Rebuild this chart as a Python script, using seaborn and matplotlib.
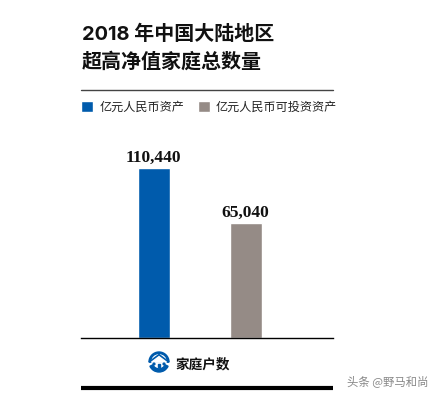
import pandas as pd
import matplotlib
matplotlib.use("Agg")
import matplotlib.pyplot as plt
from matplotlib.patches import Circle, Polygon, Rectangle, Wedge
import seaborn as sns

# values as printed on the chart
series = ["亿元人民币资产", "亿元人民币可投资资产"]
value_labels = ["110,440", "65,040"]
# bar heights as drawn: the grey bar in the source is taller than 65,040 would give
bar_heights = [110440, 74500]
colors = ["#005BAC", "#958B86"]

title_lines = ["2018 年中国大陆地区", "超高净值家庭总数量"]
axis_label = "家庭户数"
watermark = "头条 @野马和尚"

W, H = 437, 396
CJK = ["Noto Sans CJK SC", "DejaVu Sans"]

sns.set_theme(style="white")
plt.rcParams["font.family"] = CJK


def fx(px):
    return px / W


def fy(px):
    return 1 - px / H


df = pd.DataFrame({"series": series, "height": bar_heights})

fig = plt.figure(figsize=(W / 100, H / 100), dpi=100, facecolor="white")
ax = fig.add_axes([fx(81), fy(338), fx(333) - fx(81), (338 - 140) / H])

sns.barplot(data=df, x="series", y="height", hue="series", hue_order=series,
            palette=colors, width=0.35, dodge=False, legend=True, saturation=1, ax=ax)
ax.set_xlim(-0.79, 1.95)
ax.set_ylim(0, 110440 * 198 / 170)
ax.set_xlabel(""); ax.set_ylabel("")
ax.set_xticks([]); ax.set_yticks([])
for side in ["top", "left", "right"]:
    ax.spines[side].set_visible(False)
ax.spines["bottom"].set_color("black")
ax.spines["bottom"].set_linewidth(1.0)

for i, lab in enumerate(value_labels):
    ax.annotate(lab, (i, bar_heights[i]), xytext=(0, 1.5), textcoords="offset points",
                ha="center", va="bottom", fontsize=12.6, fontweight="bold",
                family="Liberation Serif", color="#111111")

handles, labels = ax.get_legend_handles_labels()
ax.legend(handles, labels, loc="center left", bbox_to_anchor=(fx(81), fy(107)),
          bbox_transform=fig.transFigure, ncol=2, frameon=False, fontsize=8.7,
          labelcolor="#222222", handlelength=1.0, handleheight=1.0, handletextpad=0.5,
          columnspacing=1.15, borderpad=0, borderaxespad=0)

title_font = ["Inter", "Noto Sans CJK SC"]
fig.text(fx(82), fy(34), title_lines[0], fontsize=14.4, fontweight="bold", color="#111111",
         va="center", family=title_font)
fig.text(fx(82), fy(62), title_lines[1], fontsize=14.4, fontweight="bold", color="#111111",
         va="center", family=title_font)

# rules above the legend and under the category label
fig.add_artist(plt.Line2D([fx(81), fx(333)], [fy(90), fy(90)], color="#444444", lw=1.0))
fig.add_artist(plt.Line2D([fx(81), fx(333)], [fy(388), fy(388)], color="black", lw=3.0, solid_capstyle="butt"))

# house icon, in pixel coordinates
icon = fig.add_axes([fx(146), fy(375), 26 / W, 26 / H])
icon.set_xlim(0, 26); icon.set_ylim(0, 26); icon.axis("off")
blue = colors[0]
icon.add_patch(Wedge((13, 13), 10, 0, 180, width=1.4, color=blue))
icon.add_patch(Wedge((13, 13), 10, 205, 335, width=3.2, color=blue))
icon.add_patch(Polygon([[3, 13], [13, 20.5], [23, 13]], closed=True, color=blue))
icon.add_patch(Polygon([[5.5, 12.8], [13, 18.4], [20.5, 12.8]], closed=True, color="white"))
icon.add_patch(Rectangle((11.8, 8), 2.4, 3.5, color=blue))
icon.add_patch(Circle((8, 11), 0.9, color=blue))
icon.add_patch(Circle((18, 11), 0.9, color=blue))

fig.text(fx(175), fy(364), axis_label, fontsize=9.8, fontweight="bold", color="#111111", va="center")
fig.text(fx(347), fy(381), watermark, fontsize=8.2, color="#888888", va="center")

fig.savefig("out.png", dpi=100)
